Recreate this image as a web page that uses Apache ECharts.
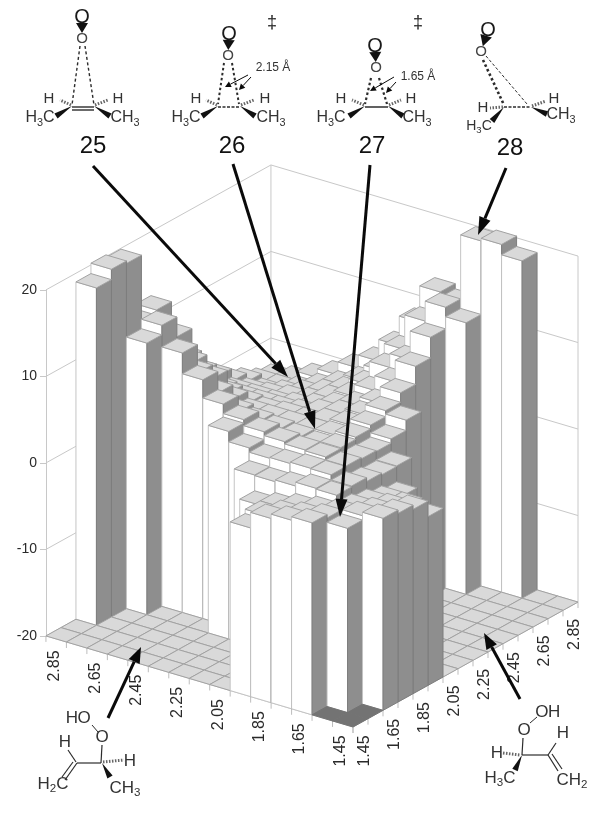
<!DOCTYPE html>
<html>
<head>
<meta charset="utf-8">
<title>O2 + butene surface</title>
<script src="https://cdn.jsdelivr.net/npm/echarts@6/dist/echarts.min.js"></script>
<style>
html,body{margin:0;padding:0;background:#fff}
#box{width:600px;height:816px;filter:blur(0.5px)}
</style>
</head>
<body>
<div id="box"></div>
<script>
// bond length (angstrom) along both floor axes, one cell each
var bondLengths = ['1.45','1.55','1.65','1.75','1.85','1.95','2.05','2.15','2.25','2.35','2.45','2.55','2.65','2.75','2.85'];
var zTicks = [-20,-10,0,10,20];
// energies, one row per bond length on the left axis
// -20 = bottom of the box, -25 = the dark cells at the front corner
var row145 = [-25,-25,2.2,1.8,1.3,-0.5,-20,-20,-20,-20,-20,-20,-20,-20,-20];
var row155 = [-25,1.3,1.8,1.3,0.8,0,-20,-20,-20,-20,-20,-20,-20,-20,-20];
var row165 = [2.2,1.8,1.4,1,0.6,0,-0.5,-20,-20,-20,-20,-20,-20,-20,19];
var row175 = [1.8,1.3,1,1.8,1.9,1.46,1.26,1.33,-20,-20,-20,-20,-20,-20,20.2];
var row185 = [1.3,0.8,0.6,1.9,2.5,2.55,2.4,2.3,2.8,4,-20,-20,-20,11.4,19.9];
var row195 = [-0.5,0,0,1.46,2.55,2.9,3,3.26,3.7,4.4,5.5,7.6,10,12.5,12];
var row205 = [-20,-20,-0.5,1.26,2.4,3,2.6,2.8,3,3.2,3.6,5.1,6.7,10.2,12.6];
var row215 = [-20,-20,-20,1.33,2.3,3.26,2.8,2.6,2.6,2.6,2.6,3.4,5.1,6.2,8.4];
var row225 = [-20,-20,-20,-20,2.8,3.7,3,2.6,2,2,1.8,2,2.4,3,5];
var row235 = [-20,-20,-20,-20,4,4.4,3.2,2.6,2,1.3,1,1,1,1.2,2.5];
var row245 = [-20,-20,-20,-20,-20,5.5,3.6,2.6,1.8,1,0.4,0,0,0,1];
var row255 = [-20,-20,-20,-20,-20,7.6,5.1,3.4,2,1,0,-0.4,-0.8,-1,-0.5];
var row265 = [-20,-20,-20,-20,-20,10,6.7,5.1,2.4,1,0,-0.8,-1.5,-2,-1.5];
var row275 = [-20,-20,-20,-20,11.4,12.5,10.2,6.2,3,1.2,0,-1,-2,-2.5,-2.5];
var row285 = [-20,-20,19,20.2,19.9,12,12.6,8.4,5,2.5,1,-0.5,-1.5,-2.5,-3];
var heights = [row145,row155,row165,row175,row185,row195,row205,row215,row225,row235,row245,row255,row265,row275,row285];

var charts = echarts.init(document.getElementById('box'));

// oblique view: floor cell steps in axis units
var stepIU = -20.47, stepJU = 15, originU = 307;
var stepIZ = 0.702, stepJZ = 0.963, originZ = -10.52;

function project(api, i, j, z) {
    return api.coord([originU + stepIU * i + stepJU * j, z + originZ + stepIZ * i + stepJZ * j]);
}

// bars back to front, so that the nearer ones paint over
var cells = [];
for (var i = 14; i >= 0; i--) {
    for (var j = 14; j >= 0; j--) {
        cells.push([i, j, heights[i][j]]);
    }
}

function renderCell(params, api) {
    var i = api.value(0), j = api.value(1), v = api.value(2);
    var z = Math.max(v, -20);
    var a = project(api, i, j, z), b = project(api, i + 1, j, z), c = project(api, i + 1, j + 1, z), d = project(api, i, j + 1, z);
    var kids = [];
    if (z > -20) {
        var a0 = project(api, i, j, -20), b0 = project(api, i + 1, j, -20), d0 = project(api, i, j + 1, -20);
        kids.push({type: 'polygon', shape: {points: [b, a, a0, b0]}, style: {fill: '#fff', stroke: '#c4c4c4', lineWidth: 1}});
        kids.push({type: 'polygon', shape: {points: [a, d, d0, a0]}, style: {fill: '#8e8e8e', stroke: '#7d7d7d', lineWidth: 1}});
    }
    kids.push({
        type: 'polygon',
        shape: {points: [a, b, c, d]},
        style: {fill: v < -20 ? '#737373' : '#d9d9d9', stroke: v < -20 ? '#737373' : '#a2a2a2', lineWidth: 1}
    });
    return {type: 'group', children: kids};
}

// walls of the box
function renderWall(params, api) {
    var z = api.value(0);
    var l = project(api, 15, 0, z), m = project(api, 15, 15, z), r = project(api, 0, 15, z);
    var kids = [{type: 'polyline', shape: {points: [l, m, r]}, style: {fill: 'none', stroke: '#c8c8c8', lineWidth: 1}}];
    if (z === 20) {
        kids.push({type: 'line', shape: {x1: m[0], y1: m[1], x2: m[0], y2: project(api, 15, 15, -20)[1]}, style: {stroke: '#c8c8c8', lineWidth: 1}});
        kids.push({type: 'line', shape: {x1: r[0], y1: r[1], x2: r[0], y2: project(api, 0, 15, -20)[1]}, style: {stroke: '#c8c8c8', lineWidth: 1}});
    }
    return {type: 'group', children: kids};
}

// floor axes: ticks at each cell, text at every second one
function renderFloorAxis(params, api) {
    var n = api.value(0), side = api.value(1);
    var p = side === 0 ? project(api, n, 0, -20) : project(api, 0, n, -20);
    var q = side === 0 ? project(api, n + 1, 0, -20) : project(api, 0, n + 1, -20);
    var kids = [{type: 'line', shape: {x1: p[0], y1: p[1], x2: p[0], y2: p[1] + 6}, style: {stroke: '#bdbdbd', lineWidth: 1}}];
    if (n < 15) {
        kids.push({type: 'line', shape: {x1: p[0], y1: p[1], x2: q[0], y2: q[1]}, style: {stroke: '#c8c8c8', lineWidth: 1}});
    }
    if (n % 2 === 0 && n < 15) {
        kids.push({
            type: 'text',
            x: p[0] + (side === 0 ? -12 : 12),
            y: p[1] + 24,
            rotation: Math.PI / 2,
            style: {text: bondLengths[n], fill: '#2a2a2a', font: '16px "Liberation Sans"', align: 'center', verticalAlign: 'middle'}
        });
    }
    return {type: 'group', children: kids};
}

var floorTicks = [];
for (var n = 0; n <= 15; n++) {
    floorTicks.push([n, 0]);
    floorTicks.push([n, 1]);
}

// drawn structures
var graphics = [];
var INK = '#2c2c2c';
function ln(x1, y1, x2, y2, w, dash, col) {
    graphics.push({type: 'line', z: 100, shape: {x1: x1, y1: y1, x2: x2, y2: y2}, style: {stroke: col || INK, lineWidth: w || 1.2, lineDash: dash || null}});
}
function wedge(x1, y1, x2, y2, w) {
    var dx = x2 - x1, dy = y2 - y1, len = Math.sqrt(dx * dx + dy * dy);
    var nx = -dy / len * w, ny = dx / len * w;
    graphics.push({type: 'polygon', z: 100, shape: {points: [[x1, y1], [x2 + nx, y2 + ny], [x2 - nx, y2 - ny]]}, style: {fill: '#111'}});
}
function arrow(x1, y1, x2, y2, w, headLen, headW) {
    var dx = x2 - x1, dy = y2 - y1, len = Math.sqrt(dx * dx + dy * dy);
    var ux = dx / len, uy = dy / len;
    var bx = x2 - ux * headLen, by = y2 - uy * headLen;
    ln(x1, y1, bx, by, w, null, '#0a0a0a');
    graphics.push({type: 'polygon', z: 100, shape: {points: [[x2, y2], [bx - uy * headW, by + ux * headW], [bx + uy * headW, by - ux * headW]]}, style: {fill: '#0a0a0a'}});
}
function txt(x, y, s, size, col) {
    graphics.push({type: 'text', z: 101, x: x, y: y, style: {text: s, fill: col || '#333', font: size + 'px "Liberation Sans"', align: 'center', verticalAlign: 'middle'}});
}
// formula with digits set as subscripts, centred on x
function chem(x, y, s, size) {
    var sub = size * 0.68, w = 0, k;
    for (k = 0; k < s.length; k++) {
        w += /[0-9]/.test(s[k]) ? sub * 0.56 : size * 0.72;
    }
    var cx = x - w / 2;
    for (k = 0; k < s.length; k++) {
        var isSub = /[0-9]/.test(s[k]);
        var adv = isSub ? sub * 0.56 : size * 0.72;
        graphics.push({type: 'text', z: 101, x: cx + adv / 2, y: y + (isSub ? size * 0.3 : 0), style: {text: s[k], fill: '#333', font: (isSub ? sub : size) + 'px "Liberation Sans"', align: 'center', verticalAlign: 'middle'}});
        cx += adv;
    }
}
// O-O group on top of each structure
function dioxygen(x1, y1, x2, y2) {
    txt(x1, y1, 'O', 20, '#1a1a1a');
    txt(x2, y2, 'O', 15, '#444');
    var dx = x2 - x1, dy = y2 - y1, len = Math.sqrt(dx * dx + dy * dy);
    var ux = dx / len, uy = dy / len;
    graphics.push({type: 'polygon', z: 100, shape: {points: [[x2 - ux * 6, y2 - uy * 6], [x1 + ux * 6 - uy * 6, y1 + uy * 6 + ux * 6], [x1 + ux * 6 + uy * 6, y1 + uy * 6 - ux * 6]]}, style: {fill: '#111'}});
}
function hashLine(x1, y1, x2, y2) {
    ln(x1, y1, x2, y2, 3, [1.5, 1.5], '#666');
}

// 25
dioxygen(82, 17, 82, 39);
ln(80, 46, 72, 105, 1.4, [3, 2.5]);
ln(85, 46, 94, 105, 1.4, [3, 2.5]);
ln(72, 107, 94, 107, 1.4);
ln(72, 110, 94, 110, 1.4);
wedge(72, 106, 56, 116, 3);
wedge(94, 106, 110, 116, 3);
hashLine(71, 105, 60, 100);
hashLine(95, 105, 108, 100);
txt(49, 99, 'H', 15);
txt(118, 99, 'H', 15);
chem(40, 118, 'H3C', 16);
chem(125, 118, 'CH3', 16);
txt(93, 146, '25', 24, '#111');
// 26
dioxygen(229, 34, 228, 56);
ln(224, 63, 218, 104, 2, [2.5, 2.5]);
ln(232, 63, 239, 104, 2, [2.5, 2.5]);
ln(218, 107, 240, 107, 1.4, [3, 1.5]);
wedge(218, 106, 202, 116, 3);
wedge(240, 106, 255, 116, 3);
hashLine(217, 105, 206, 100);
hashLine(241, 105, 254, 100);
txt(196, 99, 'H', 15);
txt(265, 99, 'H', 15);
chem(186, 118, 'H3C', 16);
chem(271, 118, 'CH3', 16);
txt(273, 68, '2.15 Å', 12);
arrow(248, 75, 225, 87, 1, 6, 3);
arrow(251, 77, 239, 90, 1, 6, 3);
txt(272, 23, '‡', 18, '#222');
txt(232, 146, '26', 24, '#111');
// 27
dioxygen(375, 46, 376, 68);
ln(371, 78, 365, 104, 2.2, [2.5, 2.5]);
ln(379, 78, 387, 104, 2.2, [2.5, 2.5]);
ln(365, 107, 388, 107, 1.5);
wedge(365, 106, 349, 116, 3);
wedge(388, 106, 403, 116, 3);
hashLine(364, 105, 352, 100);
hashLine(389, 105, 401, 100);
txt(341, 99, 'H', 15);
txt(411, 99, 'H', 15);
chem(331, 118, 'H3C', 16);
chem(417, 118, 'CH3', 16);
txt(418, 77, '1.65 Å', 12);
arrow(394, 77, 370, 91, 1, 6, 3);
arrow(396, 82, 386, 93, 1, 6, 3);
txt(418, 23, '‡', 18, '#222');
txt(372, 146, '27', 24, '#111');
// 28
dioxygen(488, 30, 481, 52);
ln(483, 60, 504, 105, 2.6, [2.5, 2.5]);
ln(486, 56, 527, 104, 1, [3, 2]);
ln(504, 107, 531, 107, 1.4, [3, 1.5]);
wedge(504, 107, 492, 121, 3);
wedge(531, 107, 547, 114, 3);
hashLine(503, 107, 490, 108);
hashLine(532, 106, 546, 101);
txt(483, 108, 'H', 15);
txt(554, 99, 'H', 15);
chem(561, 115, 'CH3', 16);
chem(479, 126, 'H3C', 14);
txt(510, 148, '28', 24, '#111');
// front left
chem(78, 718, 'HO', 17);
txt(102, 737, 'O', 17);
txt(65, 742, 'H', 17);
ln(92, 725, 98, 732, 1);
ln(102, 745, 101, 763, 1.2);
ln(77, 763, 101, 763, 1.2);
ln(77, 763, 65, 780, 1.2);
ln(73, 762, 62, 777, 1.2);
ln(68, 750, 76, 762, 1.2);
wedge(102, 763, 110, 777, 3);
hashLine(103, 762, 124, 760);
txt(130, 761, 'H', 17);
chem(53, 784, 'H2C', 17);
chem(125, 788, 'CH3', 17);
// front right
chem(548, 712, 'OH', 17);
txt(524, 730, 'O', 17);
txt(563, 733, 'H', 17);
txt(497, 753, 'H', 17);
chem(500, 778, 'H3C', 17);
chem(572, 780, 'CH2', 17);
ln(530, 723, 537, 717, 1);
ln(523, 738, 522, 755, 1.2);
ln(522, 755, 548, 755, 1.2);
ln(548, 755, 558, 771, 1.2);
ln(552, 754, 562, 769, 1.2);
ln(548, 755, 556, 743, 1.2);
wedge(522, 755, 515, 770, 3);
hashLine(503, 753, 520, 755);

// pointers into the plot
arrow(93, 166, 288, 377, 3, 18, 6);
arrow(233, 164, 315, 429, 3, 18, 6);
arrow(370, 165, 340, 517, 3, 18, 6);
arrow(506, 168, 478, 235, 3, 18, 6);
arrow(108, 718, 141, 647, 3, 16, 6);
arrow(520, 699, 484, 633, 3, 16, 6);

var data = {
    animation: false,
    backgroundColor: '#fff',
    grid: {left: 46, width: 532, top: 290, height: 346},
    xAxis: {type: 'value', min: 0, max: 532, show: false},
    yAxis: {
        type: 'value',
        min: -20,
        max: 20,
        interval: 10,
        axisLine: {show: true, lineStyle: {color: '#c8c8c8'}},
        axisTick: {show: true, length: 6, lineStyle: {color: '#c8c8c8'}},
        axisLabel: {color: '#2a2a2a', fontSize: 14, fontFamily: 'Liberation Sans', margin: 9},
        splitLine: {show: false}
    },
    graphic: graphics,
    series: [
        {
            type: 'custom',
            coordinateSystem: 'cartesian2d',
            clip: false,
            z: 2,
            encode: {x: 0, y: 0},
            data: zTicks.map(function (t) { return [t]; }),
            renderItem: renderWall
        },
        {
            type: 'custom',
            coordinateSystem: 'cartesian2d',
            clip: false,
            z: 3,
            encode: {x: 0, y: 1},
            data: floorTicks,
            renderItem: renderFloorAxis
        },
        {
            type: 'custom',
            coordinateSystem: 'cartesian2d',
            clip: false,
            z: 4,
            encode: {x: 0, y: 1},
            data: cells,
            renderItem: renderCell
        }
    ]
};

charts.setOption(data);
</script>
</body>
</html>
